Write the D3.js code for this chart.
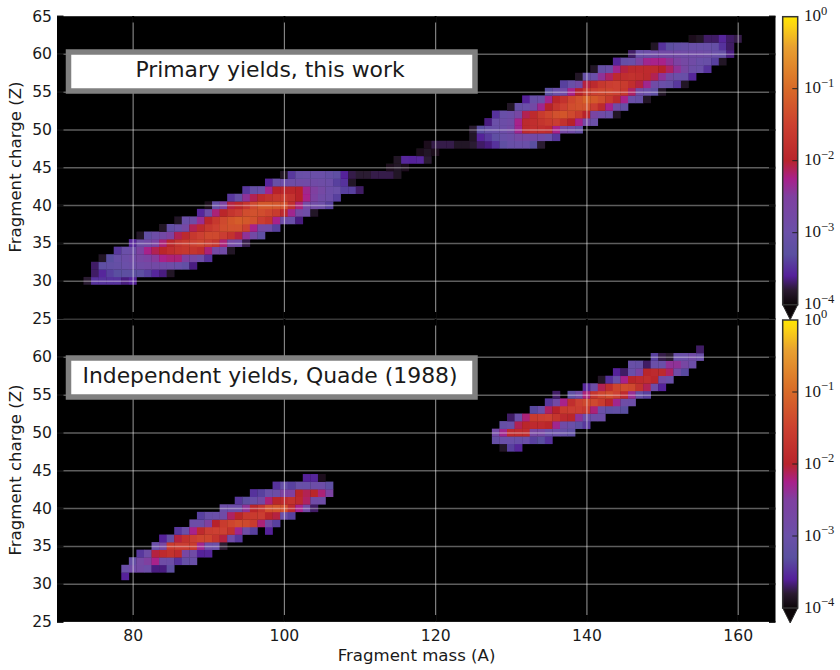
<html>
<head>
    <title>Fragment yields</title>
    <style>
        body { margin: 0; background: white; }
        text { font-family: "DejaVu Sans", sans-serif; fill: #1a1a1a; }
        .cbar text { font-family: "Liberation Serif", serif; }
    </style>
    <script src="https://cdn.jsdelivr.net/npm/d3@7"></script>
</head>
<body>
<div id="svgTarget"></div>
<script>
  // every row: charge Z, first mass A in the row, log10(yield) of each cell
  var primaryZ = [30,31,32,33,34,35,36,37,38,39,40,41,42,43,44,45,46,47,48,49,50,51,52,53,54,55,56,57,58,59,60,61,62];
  var primaryFirstA = [74,75,75,76,78,80,81,84,86,89,90,93,95,98,100,114,115,118,119,125,125,127,128,130,132,135,137,139,141,144,146,149,154];
  var primaryLogY = [
    [-3.8,-3.5,-3.5,-3.5,-3.5,-3.65,-3.6],
    [-3.7,-3.55,-3.4,-3.3,-3.25,-3.25,-3.25,-3.4,-3.55,-3.65,-3.85],
    [-3.7,-3.2,-3.15,-3.1,-3,-2.95,-2.85,-2.8,-2.8,-2.85,-2.9,-3,-3.15,-3.65],
    [-3.85,-3.3,-3.05,-2.95,-2.85,-2.7,-2.6,-2.45,-2.25,-2.2,-2.2,-2.5,-2.7,-2.9,-3.5],
    [-3.45,-3,-2.95,-2.6,-2.25,-2.1,-1.95,-1.8,-1.7,-1.65,-1.7,-1.8,-2.2,-2.75,-2.85,-3.85],
    [-3.55,-2.9,-2.8,-2.6,-2.2,-1.95,-1.7,-1.6,-1.5,-1.45,-1.55,-1.7,-2.2,-2.75,-2.85,-3.75],
    [-3.85,-3.15,-2.95,-2.8,-2.55,-2.1,-1.9,-1.65,-1.5,-1.4,-1.4,-1.55,-1.75,-2.05,-2.4,-2.8,-3.2],
    [-3.85,-3.15,-3,-2.75,-2.1,-1.85,-1.65,-1.5,-1.35,-1.3,-1.3,-1.5,-2.25,-2.75,-2.85,-3.4],
    [-3.85,-3,-2.9,-2.35,-1.95,-1.65,-1.4,-1.25,-1.15,-1.2,-1.3,-1.55,-1.7,-2.25,-2.9,-3,-3.65],
    [-3.55,-2.9,-2.2,-1.95,-1.7,-1.55,-1.35,-1.3,-1.35,-1.45,-1.6,-1.9,-2.3,-2.75,-2.9,-3.85],
    [-3.9,-3.1,-2.6,-2.05,-1.95,-1.7,-1.4,-1.2,-1.2,-1.25,-1.3,-1.8,-2.2,-2.75,-2.85,-2.95,-3.4],
    [-3.45,-3.1,-2.4,-2.1,-1.85,-1.75,-1.65,-1.6,-1.75,-2,-2.25,-2.6,-2.85,-2.95,-3.4],
    [-3.45,-3.1,-3,-2.3,-2,-1.95,-1.95,-2,-2.3,-2.5,-2.75,-2.95,-3,-3.4,-3.4,-3.7],
    [-3.55,-3.05,-2.95,-2.9,-2.85,-2.85,-2.85,-2.9,-2.95,-3.4,-3.5,-3.85],
    [-3.85,-3.45,-3.05,-3,-3,-3,-3.1,-3.2,-3.6,-3.75,-3.8,-3.8,-3.75,-3.75,-3.75,-3.85],
    [-3.9,-3.85,-3.9],
    [-3.85,-3.55,-3.6,-3.55,-3.8],
    [-3.9,-3.85,-3.9],
    [-3.9,-3.75,-3.75,-3.75,-3.85,-3.85,-3.8,-3.7,-3.65,-3.5,-3.2,-3.05,-3,-3,-3.3,-3.8],
    [-3.85,-3.6,-3.45,-3.2,-3.05,-2.95,-2.75,-2.75,-2.8,-2.85,-3,-3.45],
    [-3.8,-3.3,-3.1,-3.05,-2.95,-2.8,-2.3,-1.9,-1.8,-1.8,-1.85,-2.25,-2.75,-2.85,-3.1],
    [-3.65,-3,-2.95,-2.85,-2.25,-1.9,-1.8,-1.7,-1.6,-1.55,-1.75,-2,-2.25,-2.75,-3],
    [-3.5,-3.05,-2.95,-2.7,-2.1,-1.85,-1.6,-1.45,-1.3,-1.25,-1.4,-1.6,-2,-2.65,-2.85,-3,-3.85],
    [-3.85,-3.1,-3,-2.8,-2.3,-2,-1.7,-1.5,-1.35,-1.3,-1.3,-1.55,-1.9,-2.25,-2.85,-3.1],
    [-3.6,-3.05,-3,-2.3,-1.95,-1.75,-1.45,-1.3,-1.1,-1.2,-1.35,-1.6,-1.9,-2.25,-3,-3.1,-3.85],
    [-3.3,-3,-2.85,-2.25,-2,-1.6,-1.5,-1.45,-1.45,-1.5,-1.65,-2.15,-2.85,-3,-3.2,-3.85],
    [-3.4,-3.05,-2.8,-2.05,-1.9,-1.65,-1.55,-1.5,-1.6,-1.8,-2.05,-2.3,-2.85,-3,-3.1,-3.45,-3.85],
    [-3.85,-3.1,-3,-2.4,-2.15,-1.85,-1.8,-1.75,-1.8,-1.9,-2.1,-2.4,-2.8,-3,-3.05,-3.55],
    [-3.85,-3.1,-3,-2.3,-2.05,-1.9,-1.85,-1.85,-1.85,-2,-2.15,-2.4,-2.7,-2.95,-3,-3.5],
    [-3.55,-3.1,-3,-2.6,-2.3,-2.25,-2.25,-2.4,-2.6,-2.75,-2.85,-3,-3.05,-3.4,-3.85],
    [-3.7,-3,-2.95,-2.85,-2.8,-2.8,-2.8,-2.85,-2.85,-2.85,-2.9,-3,-3.1,-3.65],
    [-3.85,-3.5,-3.25,-3.15,-3.1,-3.05,-3.05,-3.05,-3.1,-3.5,-3.7],
    [-3.9,-3.85,-3.7,-3.7,-3.55,-3.7,-3.75]
  ];

  var quadeZ = [31,32,33,34,35,36,37,38,39,40,41,42,43,44,48,49,50,51,52,53,54,55,56,57,58,59,60,61];
  var quadeFirstA = [79,79,80,81,83,84,86,88,89,92,94,96,99,103,129,128,128,129,130,133,135,136,140,142,144,146,149,155];
  var quadeLogY = [
    [-3.6],
    [-3,-2.85,-2.8,-2.95,-3.65,-3.65,-3.25],
    [-3.1,-2.75,-2.5,-2.25,-2.9,-2.95,-3.5,-3.1,-3.05],
    [-3.45,-2.9,-2.05,-1.85,-1.75,-1.85,-2.7,-2.85,-3.6,-3.55],
    [-3,-2.7,-1.6,-1.55,-1.55,-1.6,-2.3,-2.9,-3,-3.8],
    [-3.6,-3.1,-2.05,-1.75,-1.55,-1.45,-1.45,-1.7,-2.05,-2.85,-3.45],
    [-3.45,-3,-2.25,-1.85,-1.55,-1.5,-1.5,-1.75,-2.3,-2.9,-3.4,null,-3.6],
    [-2.95,-2.95,-2.5,-2,-1.6,-1.45,-1.35,-1.4,-1.6,-2.2,-2.8,-3.4],
    [-3.4,-3.05,-3,-2.85,-2.15,-1.95,-1.65,-1.6,-1.55,-1.95,-2.05,-3,-3.4],
    [-2.95,-2.95,-2.95,-2.4,-1.95,-1.7,-1.3,-1.25,-1.3,-1.85,-2.25,-2.8,-3.7],
    [-3.45,-3.25,-3.05,-2.8,-2.2,-1.95,-1.85,-1.75,-1.9,-2.15,-2.85,-2.9],
    [-3.5,-3.4,-3,-2.95,-2.55,-2.5,-1.95,-2.1,-1.95,-2.2,-2.6],
    [-3.5,-3.1,-3.4,-3.05,-3.05,-2.95,-2.95,-3.2],
    [-3.6,-3.55,-3.9],
    [-3.85,-3.4,-3.55],
    [-3.1,-3,-3,-3.05,-3,-3.4,-3.3,-3.5],
    [-2.8,-2.3,-1.85,-1.85,-1.85,-2.7,-2.7,-3,-3,-3.1,-3.2],
    [-3.1,-3,-2.1,-1.95,-1.85,-1.85,-1.95,-2.3,-2.85,-3,-3.2,-3.45],
    [-3.7,-3,-2.2,-1.6,-1.55,-1.5,-1.7,-1.9,-1.95,-2.4,-2.95,-2.95,-2.95],
    [-3.35,-3,-2.15,-2,-1.6,-1.55,-1.55,-1.65,-2.2,-3,-3.2,-3.15,-3.3],
    [-3.45,-2.8,-2.25,-1.8,-1.5,-1.4,-1.4,-1.6,-1.95,-2.3,-2.9,-2.95],
    [-3.7,null,-3.2,-2.85,-2.2,-1.7,-1.45,-1.35,-1.5,-1.85,-2.35,-3.1,-3.4],
    [-3.55,-2.95,-2.1,-1.8,-1.45,-1.35,-1.4,-1.75,-2.1,-2.95,-3.6],
    [-3.85,-3.5,-3,-2.25,-1.95,-1.85,-1.8,-1.95,-2.8,-3],
    [-3.6,-3.7,-3,-2.6,-1.95,-1.9,-1.9,-2.15,-2.85,-3.35],
    [-3.05,-3.1,-3.7,-3,-3,-2.4,-2.4,-2.7,-2.95],
    [-3.4,-3.75,-3.8,-3,-3,-2.85,-3],
    [-3.7]
  ];

  var zTicksTop = [25,30,35,40,45,50,55,60,65];
  var zTicksBottom = [25,30,35,40,45,50,55,60];
  var aTicks = [80,100,120,140,160];
  var barExponents = [0,-1,-2,-3,-4];

  var cmapLog = [-4,-3.8,-3.6,-3.3,-3,-2.5,-2.25,-2,-1.5,-1,-0.42,-0.12,0];
  var cmapColor = ['#0c0608','#2a1a30','#55209a','#5a50a0','#6a50a8','#7f40a0','#a8208a','#b8242c','#cc4030','#d86a28','#e8a030','#fbd414','#ffe600'];

  var W = 840, H = 670;
  var plotLeft = 57, plotRight = 775.5, panelHeight = 302.5;

  var svg = d3.select('#svgTarget')
      .append('svg')
      .attr('width', W)
      .attr('height', H)
      .style('display', 'block');

  var color = d3.scaleLinear().domain(cmapLog).range(cmapColor);
  var x = d3.scaleLinear().domain([70, 165]).range([plotLeft, plotRight]);

  var defs = svg.append('defs');
  defs.append('filter').attr('id', 'soft')
      .attr('x', 0).attr('y', 0).attr('width', 1).attr('height', 1)
      .append('feGaussianBlur').attr('stdDeviation', 0.45);

  var grad = defs.append('linearGradient').attr('id', 'cbarGrad')
      .attr('x1', 0).attr('x2', 0).attr('y1', 0).attr('y2', 1);
  cmapLog.slice().reverse().forEach(function(v) {
    grad.append('stop').attr('offset', -v / 4).attr('stop-color', color(v));
  });

  function flatten(zs, firstA, logY) {
    var cells = [];
    zs.forEach(function(z, i) {
      logY[i].forEach(function(v, j) {
        if (v !== null) cells.push({ a: firstA[i] + j, z: z, v: v });
      });
    });
    return cells;
  }

  function panel(top, cells, zTicks, title, boxShift, showX) {
    var y = d3.scaleLinear().domain([25, 65]).range([top + panelHeight, top]);
    var g = svg.append('g');

    g.append('rect')
        .attr('x', plotLeft)
        .attr('y', top)
        .attr('width', plotRight - plotLeft)
        .attr('height', panelHeight + 0.5)
        .attr('fill', 'black');

    var cw = x(1) - x(0), ch = y(0) - y(1);
    g.append('g')
        .attr('filter', 'url(#soft)')
      .selectAll('rect')
        .data(cells)
        .enter()
      .append('rect')
        .attr('x', function(d) { return x(d.a - 0.5) })
        .attr('y', function(d) { return y(d.z + 0.5) })
        .attr('width', cw + 0.3)
        .attr('height', ch + 0.3)
        .attr('fill', function(d) { return color(d.v) });

    // grid, the horizontals come out wider and dimmer than the verticals
    var gridH = g.append('g')
        .attr('transform', 'translate(' + plotLeft + ',0)')
        .call(d3.axisLeft(y).tickValues(zTicksTop).tickFormat('').tickSize(-(plotRight - plotLeft)));
    var gridV = g.append('g')
        .attr('transform', 'translate(0,' + (top + panelHeight) + ')')
        .call(d3.axisBottom(x).tickValues(aTicks).tickFormat('').tickSize(-panelHeight));
    gridH.select('.domain').remove();
    gridV.select('.domain').remove();
    gridH.selectAll('line').attr('stroke', 'white').attr('stroke-opacity', 0.37).attr('stroke-width', 1.5);
    gridV.selectAll('line').attr('stroke', 'white').attr('stroke-opacity', 0.55).attr('stroke-width', 1.1);
    gridH.selectAll('.tick').filter(function(d) { return d === 25 || d === 65 }).select('line')
        .attr('stroke-opacity', 0.22).attr('stroke-width', 1);

    // ticks point inward, black over the grid
    var yAxis = d3.axisLeft(y).tickValues(zTicks).tickSizeInner(-6.5).tickSizeOuter(0).tickPadding(4);
    var ga = g.append('g').attr('transform', 'translate(' + plotLeft + ',0)').call(yAxis);
    ga.select('.domain').remove();
    ga.selectAll('line').attr('stroke', 'black').attr('stroke-width', 2).attr('stroke-opacity', 0.85);
    ga.selectAll('text').style('font-size', '15.6px').attr('x', -5).attr('fill', '#1a1a1a');

    var yRight = d3.axisRight(y).tickValues(zTicks).tickSizeInner(-6.5).tickSizeOuter(0).tickFormat('');
    var gr = g.append('g').attr('transform', 'translate(' + plotRight + ',0)').call(yRight);
    gr.select('.domain').remove();
    gr.selectAll('line').attr('stroke', 'black').attr('stroke-width', 2).attr('stroke-opacity', 0.85);

    var xTop = d3.axisTop(x).tickValues(aTicks).tickSizeInner(-6.5).tickSizeOuter(0).tickFormat('');
    var gt = g.append('g').attr('transform', 'translate(0,' + top + ')').call(xTop);
    gt.select('.domain').remove();
    gt.selectAll('line').attr('stroke', 'black').attr('stroke-width', 2);

    var xBot = d3.axisBottom(x).tickValues(aTicks).tickSizeInner(-6.5).tickSizeOuter(0).tickPadding(8);
    if (!showX) xBot.tickFormat('');
    var gb = g.append('g').attr('transform', 'translate(0,' + (top + panelHeight) + ')').call(xBot);
    gb.select('.domain').remove();
    gb.selectAll('line').attr('stroke', 'black').attr('stroke-width', 2);
    gb.selectAll('text').style('font-size', '15.6px').attr('fill', '#1a1a1a');

    g.append('text')
        .attr('transform', 'translate(21,' + (top + 151) + ') rotate(-90)')
        .attr('text-anchor', 'middle')
        .style('font-size', '16.6px')
        .text('Fragment charge (Z)');

    // title box
    g.append('rect')
        .attr('x', 68.5)
        .attr('y', top + 36 + boxShift)
        .attr('width', 406.5)
        .attr('height', 39)
        .attr('fill', 'white')
        .attr('stroke', '#808080')
        .attr('stroke-width', 5.5);
    g.append('text')
        .attr('x', 270)
        .attr('y', top + 61 + boxShift)
        .attr('text-anchor', 'middle')
        .style('font-size', '21.9px')
        .text(title);
  }

  function colorbar(top) {
    var s = d3.scaleLinear().domain([0, -4]).range([top, top + 288]);
    var g = svg.append('g').attr('class', 'cbar');
    g.append('path')
        .attr('d', d3.line()([[782.7, s(-4)], [790.2, s(-4) + 15], [797.7, s(-4)]]))
        .attr('fill', '#0c0608')
        .attr('stroke', '#333')
        .attr('stroke-width', 1);
    g.append('rect')
        .attr('x', 782.7)
        .attr('y', s(0))
        .attr('width', 15)
        .attr('height', s(-4) - s(0))
        .attr('fill', 'url(#cbarGrad)')
        .attr('stroke', '#333')
        .attr('stroke-width', 1.5);

    var ticks = g.selectAll('g.t').data(barExponents).enter().append('g').attr('class', 't');
    ticks.filter(function(d) { return d !== 0 && d !== -4 }).append('line')
        .attr('x1', 792.3).attr('x2', 797.7)
        .attr('y1', function(d) { return s(d) })
        .attr('y2', function(d) { return s(d) })
        .attr('stroke', '#222');
    var lab = ticks.append('text')
        .attr('x', 804)
        .attr('y', function(d) { return s(d) + 4.5 })
        .style('font-size', '17px');
    lab.append('tspan').text('10');
    lab.append('tspan')
        .attr('dy', -6.5)
        .style('font-size', '12.5px')
        .text(function(d) { return d === 0 ? '0' : '\u2212' + (-d) });
  }

  panel(16, flatten(primaryZ, primaryFirstA, primaryLogY), zTicksTop, 'Primary yields, this work', 0, false);
  panel(319, flatten(quadeZ, quadeFirstA, quadeLogY), zTicksBottom, 'Independent yields, Quade (1988)', 3, true);
  colorbar(16.7);
  colorbar(320);

  svg.append('text')
      .attr('x', 416.5)
      .attr('y', 661)
      .attr('text-anchor', 'middle')
      .style('font-size', '16.6px')
      .text('Fragment mass (A)');
</script>
</body>
</html>
